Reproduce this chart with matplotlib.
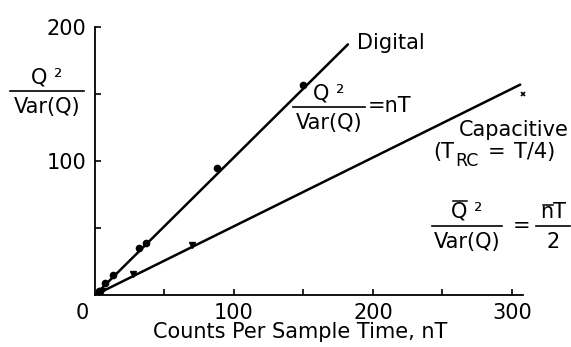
import matplotlib
matplotlib.use("Agg")
import matplotlib.pyplot as plt
from matplotlib.lines import Line2D

plt.rcParams['font.family'] = ['DejaVu Sans']

# Data
digital_line_x = [0, 182]
digital_line_y = [0, 187]
cap_line_x = [0, 306]
cap_line_y = [0, 157]
digital_x = [3, 7, 13, 32, 37, 88, 150]
digital_y = [3, 9, 15, 35, 39, 95, 157]
cap_x = [5, 27, 70]
cap_y = [3, 16, 37]
cap_end_x = [308]
cap_end_y = [150]
xtick_vals = [50, 100, 150, 200, 250, 300]
xtick_labels = ['', '100', '', '200', '', '300']
ytick_vals = [50, 100, 150, 200]
ytick_labels = ['', '100', '', '200']

FS = 15
W, H = 571, 347
fig = plt.figure(figsize=(W / 100, H / 100), dpi=100)
ax = fig.add_axes([95 / W, 52 / H, 428 / W, 268 / H])
ax.set_xlim(0, 308)
ax.set_ylim(0, 200)
for s in ['top', 'right']:
    ax.spines[s].set_visible(False)
for s in ['left', 'bottom']:
    ax.spines[s].set_linewidth(1.3)
ax.set_xticks(xtick_vals)
ax.set_xticklabels(xtick_labels, fontsize=FS)
ax.set_yticks(ytick_vals)
ax.set_yticklabels(ytick_labels, fontsize=FS)
ax.tick_params(direction='in', length=4, width=1.2, pad=6)

ax.plot(digital_line_x, digital_line_y, color='black', lw=1.8, solid_capstyle='round')
ax.plot(cap_line_x, cap_line_y, color='black', lw=1.8, solid_capstyle='round')
ax.plot(digital_x, digital_y, 'o', color='black', ms=4.5, clip_on=False)
ax.plot(cap_x, cap_y, 'v', color='black', ms=4, clip_on=False)
ax.plot(cap_end_x, cap_end_y, 'x', color='black', ms=3, mew=1.2, clip_on=False)

def px(x, y):
    return x / W, 1 - y / H

def ftext(x, y, s, **kw):
    kw.setdefault('fontsize', FS)
    kw.setdefault('ha', 'center')
    kw.setdefault('va', 'center')
    fig.text(*px(x, y), s, **kw)

def hline(x0, x1, y, lw=1.2):
    a, b = px(x0, y)
    c, d = px(x1, y)
    fig.add_artist(Line2D([a, c], [b, d], color='black', lw=lw, transform=fig.transFigure))

def fraction(xc, yline, num, den, width):
    ftext(xc, yline - 14, num)
    ftext(xc, yline + 16, den)
    hline(xc - width / 2, xc + width / 2, yline)

# y-axis label
fraction(47, 91, 'Q ²', 'Var(Q)', 74)
# origin label
ftext(82, 313, '0')
# x label
ftext(300, 332, 'Counts Per Sample Time, nT')
# Digital
ftext(357, 43, 'Digital', ha='left')
fraction(329, 107, 'Q ²', 'Var(Q)', 72)
ftext(368, 106, '=nT', ha='left')
# Capacitive
ftext(569, 130, 'Capacitive', ha='right')
ftext(433, 152, '(T', ha='left')
ftext(455, 161, 'RC', ha='left', fontsize=12.5)
ftext(488, 152, '=', ha='left')
ftext(514, 152, 'T/4)', ha='left')
fraction(467, 226, 'Q ²', 'Var(Q)', 70)
hline(453, 467, 201, lw=1.1)
ftext(522, 226, '=')
fraction(553, 226, 'nT', '2', 34)
hline(543, 553, 205, lw=1.1)

fig.savefig('out.png', dpi=100)
